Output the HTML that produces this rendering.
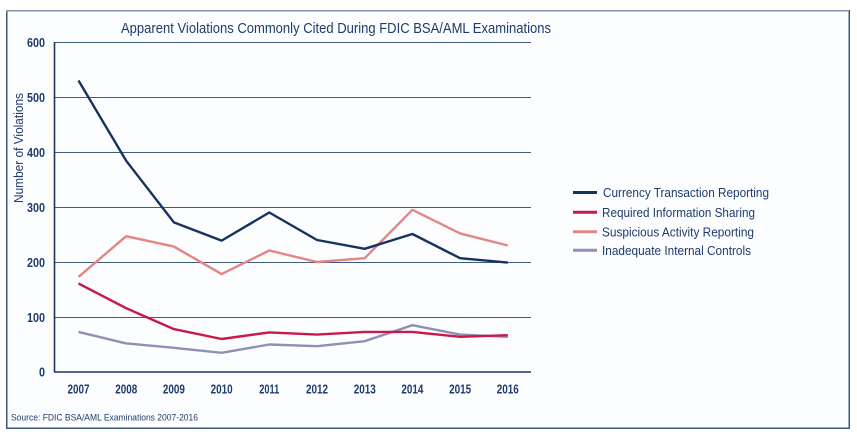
<!DOCTYPE html>
<html><head><meta charset="utf-8"><style>
html,body{margin:0;padding:0;background:#fff;}
svg{display:block;font-family:"Liberation Sans Narrow","Liberation Sans",sans-serif;}
</style></head><body>
<svg width="857" height="437" viewBox="0 0 857 437" xmlns="http://www.w3.org/2000/svg">
<rect x="0" y="0" width="857" height="437" fill="#ffffff"/>
<rect x="6.75" y="10.75" width="842.5" height="417.5" fill="#fcfdfe" stroke="#3d5a78" stroke-width="1.5"/>
<line x1="6" y1="10.75" x2="849" y2="10.75" stroke="#8299b2" stroke-width="1.5"/>
<text x="121" y="33" font-size="15" fill="#1f3b6e" textLength="430" lengthAdjust="spacingAndGlyphs">Apparent Violations Commonly Cited During FDIC BSA/AML Examinations</text>
<g stroke="#3f5c82" stroke-width="1.1">
<line x1="54.5" y1="42.5" x2="531" y2="42.5"/>
<line x1="54.5" y1="97.5" x2="531" y2="97.5"/>
<line x1="54.5" y1="152.5" x2="531" y2="152.5"/>
<line x1="54.5" y1="207.5" x2="531" y2="207.5"/>
<line x1="54.5" y1="262.5" x2="531" y2="262.5"/>
<line x1="54.5" y1="317.5" x2="531" y2="317.5"/>
</g>
<line x1="54.5" y1="42" x2="54.5" y2="372" stroke="#1a3560" stroke-width="1.6"/>
<line x1="54" y1="372" x2="531" y2="372" stroke="#1a3560" stroke-width="1.6"/>
<g font-size="13" font-weight="bold" fill="#1f3b6e" text-anchor="end">
<text x="45" y="47" textLength="18" lengthAdjust="spacingAndGlyphs">600</text>
<text x="45" y="102" textLength="18" lengthAdjust="spacingAndGlyphs">500</text>
<text x="45" y="157" textLength="18" lengthAdjust="spacingAndGlyphs">400</text>
<text x="45" y="212" textLength="18" lengthAdjust="spacingAndGlyphs">300</text>
<text x="45" y="267" textLength="18" lengthAdjust="spacingAndGlyphs">200</text>
<text x="45" y="322" textLength="18" lengthAdjust="spacingAndGlyphs">100</text>
<text x="45" y="376.5" textLength="6" lengthAdjust="spacingAndGlyphs">0</text>
</g>
<g font-size="13" font-weight="bold" fill="#1f3b6e" text-anchor="middle">
<text x="78.5" y="393.5" textLength="22" lengthAdjust="spacingAndGlyphs">2007</text>
<text x="126.2" y="393.5" textLength="22" lengthAdjust="spacingAndGlyphs">2008</text>
<text x="173.9" y="393.5" textLength="22" lengthAdjust="spacingAndGlyphs">2009</text>
<text x="221.6" y="393.5" textLength="22" lengthAdjust="spacingAndGlyphs">2010</text>
<text x="269.3" y="393.5" textLength="20" lengthAdjust="spacingAndGlyphs">2011</text>
<text x="317" y="393.5" textLength="22" lengthAdjust="spacingAndGlyphs">2012</text>
<text x="364.7" y="393.5" textLength="22" lengthAdjust="spacingAndGlyphs">2013</text>
<text x="412.4" y="393.5" textLength="22" lengthAdjust="spacingAndGlyphs">2014</text>
<text x="460.1" y="393.5" textLength="22" lengthAdjust="spacingAndGlyphs">2015</text>
<text x="507.8" y="393.5" textLength="22" lengthAdjust="spacingAndGlyphs">2016</text>
</g>
<text transform="translate(23,148) rotate(-90)" font-size="12.5" fill="#1f3b6e" text-anchor="middle" textLength="110" lengthAdjust="spacingAndGlyphs">Number of Violations</text>
<g fill="none" stroke-width="2.4" stroke-linejoin="round" stroke-linecap="butt">
<polyline stroke="#8e90b4" points="78.5,331.9 126.2,343.4 173.9,347.8 221.6,352.8 269.3,344.5 317,346.2 364.7,341.2 412.4,325.2 460.1,334.6 507.8,336.8"/>
<polyline stroke="#c9184a" points="78.5,283.5 126.2,308.2 173.9,329.1 221.6,339 269.3,332.4 317,334.6 364.7,331.9 412.4,331.9 460.1,336.8 507.8,335.2"/>
<polyline stroke="#e48585" points="78.5,276.9 126.2,236.2 173.9,246.6 221.6,274.1 269.3,250.5 317,262 364.7,258.2 412.4,209.8 460.1,233.4 507.8,245.5"/>
<polyline stroke="#16325f" points="78.5,80.5 126.2,160.8 173.9,222.4 221.6,240.6 269.3,212.5 317,240 364.7,248.8 412.4,234 460.1,258.2 507.8,262.6"/>
</g>
<g stroke-width="3">
<line x1="573" y1="192.5" x2="597" y2="192.5" stroke="#16325f"/>
<line x1="573" y1="212.3" x2="597" y2="212.3" stroke="#c9184a"/>
<line x1="573" y1="231.7" x2="597" y2="231.7" stroke="#e48585"/>
<line x1="573" y1="250.3" x2="597" y2="250.3" stroke="#8e90b4"/>
</g>
<g font-size="13" fill="#1f3b6e">
<text x="603" y="197.2" textLength="166" lengthAdjust="spacingAndGlyphs">Currency Transaction Reporting</text>
<text x="602" y="217" textLength="153" lengthAdjust="spacingAndGlyphs">Required Information Sharing</text>
<text x="602" y="236.4" textLength="152" lengthAdjust="spacingAndGlyphs">Suspicious Activity Reporting</text>
<text x="602" y="255" textLength="149" lengthAdjust="spacingAndGlyphs">Inadequate Internal Controls</text>
</g>
<text x="11" y="420.7" font-size="9.5" fill="#1f3b6e" textLength="187" lengthAdjust="spacingAndGlyphs">Source: FDIC BSA/AML Examinations 2007-2016</text>
</svg>
</body></html>
